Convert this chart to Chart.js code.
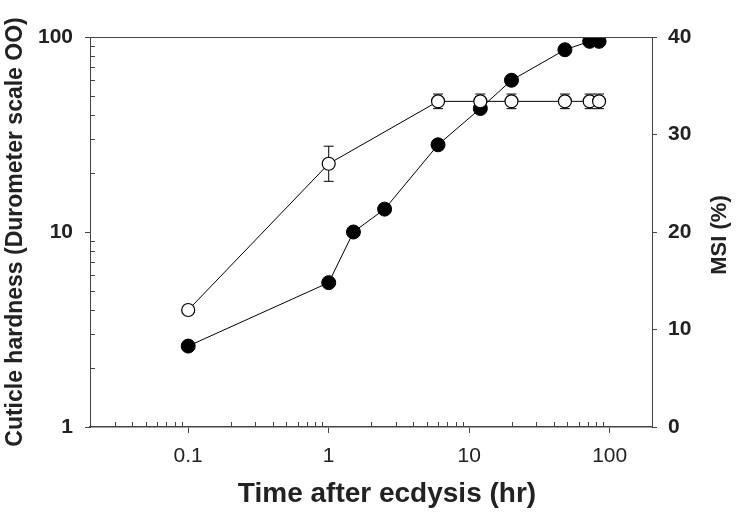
<!DOCTYPE html>
<html>
<head>
<meta charset="utf-8">
<script src="https://cdn.jsdelivr.net/npm/chart.js@4/dist/chart.umd.min.js"></script>
<style>
body { margin: 0; background: #fff; }
#wrap { width: 738px; height: 515px; }
</style>
</head>
<body>
<div id="wrap"><canvas id="chart"></canvas></div>
<script>
// time after ecdysis (hr)
var hardTimes = [0.1, 1, 1.5, 2.5, 6, 12, 20, 48, 72, 84];
// cuticle hardness, durometer OO (left, log)
var hardness = [2.6, 5.5, 10, 13.1, 28, 43, 60, 86, 95, 95];
// MSI (%) (right axis)
var msiTimes = [0.1, 1, 6, 12, 20, 48, 72, 84];
var msi = [12, 27, 33.4, 33.4, 33.4, 33.4, 33.4, 33.4];
var msiErr = [0, 1.8, 0.75, 0.75, 0.75, 0.75, 0.75, 0.75];

var xTicks = [0.1, 1, 10, 100];
var yLeftTicks = [1, 10, 100];

// minor tick positions for the log axes
var xMinor = [], yMinor = [];
[0.01, 0.1, 1, 10, 100].forEach(function (d) {
  for (var k = 2; k <= 9; k++) { if (d * k >= 0.03 && d * k < 200) xMinor.push(d * k); }
});
[1, 10].forEach(function (d) {
  for (var k = 2; k <= 9; k++) yMinor.push(d * k);
});

var axisCol = '#444';
var txtCol = '#222';

var extras = {
  id: 'extras',
  beforeDatasetsDraw: function (chart) {
    // error bars for MSI
    var ctx = chart.ctx, x = chart.scales.x, y = chart.scales.y2;
    ctx.save();
    ctx.strokeStyle = '#000';
    ctx.lineWidth = 1;
    for (var i = 0; i < msi.length; i++) {
      if (!msiErr[i]) continue;
      var px = x.getPixelForValue(msiTimes[i]);
      var hi = y.getPixelForValue(msi[i] + msiErr[i]);
      var lo = y.getPixelForValue(msi[i] - msiErr[i]);
      ctx.beginPath();
      ctx.moveTo(px, hi); ctx.lineTo(px, lo);
      ctx.moveTo(px - 5, hi); ctx.lineTo(px + 5, hi);
      ctx.moveTo(px - 5, lo); ctx.lineTo(px + 5, lo);
      ctx.stroke();
    }
    ctx.restore();
  },
  afterDraw: function (chart) {
    var ctx = chart.ctx, a = chart.chartArea;
    var x = chart.scales.x, y = chart.scales.y;
    ctx.save();
    ctx.strokeStyle = axisCol;
    ctx.lineWidth = 1;
    ctx.beginPath();
    // top border
    ctx.moveTo(a.left, a.top + 0.5); ctx.lineTo(a.right, a.top + 0.5);
    // inner minor ticks
    xMinor.forEach(function (v) {
      var px = Math.round(x.getPixelForValue(v)) + 0.5;
      ctx.moveTo(px, a.bottom); ctx.lineTo(px, a.bottom - 5);
    });
    yMinor.forEach(function (v) {
      var py = Math.round(y.getPixelForValue(v)) + 0.5;
      ctx.moveTo(a.left, py); ctx.lineTo(a.left + 5, py);
    });
    ctx.stroke();

    // axis titles
    ctx.fillStyle = txtCol;
    ctx.textAlign = 'center';
    ctx.textBaseline = 'alphabetic';
    ctx.font = 'bold 28px "Liberation Sans"';
    ctx.fillText('Time after ecdysis (hr)', 387, 502);
    ctx.translate(726, 235);
    ctx.rotate(-Math.PI / 2);
    ctx.font = 'bold 22px "Liberation Sans"';
    ctx.fillText('MSI (%)', 0, 0);
    ctx.restore();
  }
};

new Chart(document.getElementById('chart'), {
  type: 'scatter',
  data: {
    datasets: [{
      label: 'MSI (%)',
      data: msiTimes.map(function (t, i) { return { x: t, y: msi[i] }; }),
      yAxisID: 'y2',
      showLine: true,
      borderColor: '#000',
      borderWidth: 1,
      pointRadius: 6.5,
      pointBackgroundColor: '#fff',
      pointBorderColor: '#000',
      pointBorderWidth: 1.2,
      order: 0
    }, {
      label: 'Cuticle hardness',
      data: hardTimes.map(function (t, i) { return { x: t, y: hardness[i] }; }),
      yAxisID: 'y',
      showLine: true,
      borderColor: '#000',
      borderWidth: 1,
      pointRadius: 7,
      pointBackgroundColor: '#000',
      pointBorderColor: '#000',
      order: 1
    }]
  },
  options: {
    responsive: true,
    maintainAspectRatio: false,
    animation: false,
    layout: { padding: { top: 37, left: 0, right: 0, bottom: 0 } },
    plugins: { legend: { display: false }, tooltip: { enabled: false } },
    scales: {
      x: {
        type: 'logarithmic',
        min: 0.02, max: 200,
        afterBuildTicks: function (s) { s.ticks = xTicks.map(function (v) { return { value: v }; }); },
        afterFit: function (s) { s.height = 88; },
        grid: { drawOnChartArea: false, tickLength: 6, color: axisCol },
        border: { color: axisCol, width: 1.5 },
        ticks: {
          autoSkip: false, maxRotation: 0, padding: 11, color: txtCol,
          font: { family: 'Liberation Sans', size: 21 },
          callback: function (v) { return String(v); }
        }
      },
      y: {
        type: 'logarithmic', position: 'left',
        min: 1, max: 100,
        afterBuildTicks: function (s) { s.ticks = yLeftTicks.map(function (v) { return { value: v }; }); },
        afterFit: function (s) { s.width = 90; },
        grid: { drawOnChartArea: false, tickLength: 5, color: axisCol },
        border: { color: axisCol, width: 1 },
        ticks: {
          autoSkip: false, padding: 12, color: txtCol,
          font: { family: 'Liberation Sans', size: 21, weight: 'bold' },
          callback: function (v) { return String(v); }
        },
        title: {
          display: true, text: 'Cuticle hardness (Durometer scale OO)', color: txtCol,
          font: { family: 'Liberation Sans', size: 23, weight: 'bold' },
          padding: { top: 2, bottom: 0 }
        }
      },
      y2: {
        type: 'linear', position: 'right',
        min: 0, max: 40,
        afterFit: function (s) { s.width = 86; },
        grid: { drawOnChartArea: false, tickLength: 5, color: axisCol },
        border: { color: axisCol, width: 1 },
        ticks: {
          stepSize: 10, padding: 11, color: txtCol,
          font: { family: 'Liberation Sans', size: 21, weight: 'bold' }
        }
      }
    }
  },
  plugins: [extras]
});
</script>
</body>
</html>
